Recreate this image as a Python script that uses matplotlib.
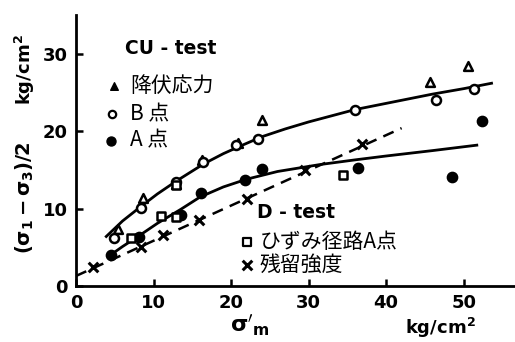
import numpy as np
import matplotlib
matplotlib.use("Agg")
import matplotlib.pyplot as plt

plt.rcParams['font.family'] = ['DejaVu Sans', 'Noto Sans CJK JP']
plt.rcParams['mathtext.fontset'] = 'dejavusans'
jp = ['Noto Sans CJK JP', 'DejaVu Sans']

# CU-test
yield_x = [5.4, 8.6, 12.9, 16.2, 20.9, 24.0, 45.7, 50.6]
yield_y = [7.4, 11.4, 13.2, 16.3, 18.5, 21.4, 26.4, 28.4]
b_x = [4.9, 8.4, 12.9, 16.4, 20.7, 23.5, 36.0, 46.4, 51.4]
b_y = [6.2, 10.1, 13.4, 16.0, 18.2, 19.0, 22.8, 24.0, 25.5]
a_x = [4.5, 8.1, 13.5, 16.1, 21.8, 24.0, 36.4, 48.5, 52.4]
a_y = [4.0, 6.3, 9.2, 12.0, 13.7, 15.1, 15.2, 14.1, 21.3]

# D-test
path_x = [7.1, 11.0, 12.9, 12.9, 34.5]
path_y = [6.2, 9.0, 8.9, 13.0, 14.3]
resid_x = [2.2, 8.4, 11.2, 15.9, 22.0, 29.5, 36.9]
resid_y = [2.5, 5.1, 6.6, 8.5, 11.3, 15.0, 18.3]

# hand-drawn trend lines
b_curve_x = [3.9, 6.0, 8.4, 10.5, 13.0, 16.5, 19.0, 21.0, 24.0, 27.0, 30.0,
             33.0, 36.0, 40.0, 43.0, 46.0, 50.0, 53.6]
b_curve_y = [6.4, 8.4, 10.3, 11.9, 13.6, 15.8, 17.1, 18.0, 19.3, 20.3, 21.2,
             22.0, 22.8, 23.6, 24.2, 24.8, 25.5, 26.2]
a_curve_x = [4.3, 6.0, 8.0, 10.5, 13.5, 16.0, 19.0, 22.0, 26.0, 31.5, 36.0,
             40.0, 46.0, 51.7]
a_curve_y = [3.9, 5.1, 6.4, 8.1, 9.9, 11.5, 12.8, 13.8, 14.8, 15.7, 16.3,
             16.8, 17.5, 18.2]
resid_line_x = [0.0, 42.0]
resid_line_y = [1.3, 20.4]

fig = plt.figure(figsize=(5.15, 3.42), dpi=100)
ax = fig.add_axes([0.1476, 0.1637, 0.852, 0.792])

ax.plot(b_curve_x, b_curve_y, color='black', lw=2)
ax.plot(a_curve_x, a_curve_y, color='black', lw=2)
ax.plot(resid_line_x, resid_line_y, color='black', lw=1.8, ls=(0, (4.5, 3)))

ax.scatter(yield_x, yield_y, marker='^', s=40, facecolor='white', edgecolor='black', lw=1.8, zorder=3)
ax.scatter(b_x, b_y, marker='o', s=42, facecolor='white', edgecolor='black', lw=1.8, zorder=3)
ax.scatter(a_x, a_y, marker='o', s=55, color='black', zorder=3)
ax.scatter(path_x, path_y, marker='s', s=36, facecolor='white', edgecolor='black', lw=1.8, zorder=3)
ax.scatter(resid_x, resid_y, marker='x', s=48, color='black', lw=2.2, zorder=3)

ax.set_xlim(0, 56.6)
ax.set_ylim(0, 35)
ax.set_xticks([0, 10, 20, 30, 40, 50])
ax.set_yticks([0, 10, 20, 30])
for s in ['top', 'right']:
    ax.spines[s].set_visible(False)
for s in ['left', 'bottom']:
    ax.spines[s].set_linewidth(2)
ax.tick_params(direction='in', length=5, width=1.8, labelsize=13, pad=6)
for lab in ax.get_xticklabels() + ax.get_yticklabels():
    lab.set_fontweight('bold')

# legend block, drawn as text and markers inside the axes
ax.text(6.3, 30.7, 'CU - test', fontsize=13.5, fontweight='bold', va='center')
ax.scatter([4.9], [25.8], marker='^', s=30, color='black')
ax.text(7.0, 25.8, '降伏応力', fontsize=15, family=jp, va='center')
ax.scatter([4.7], [22.2], marker='o', s=28, facecolor='white', edgecolor='black', lw=1.6)
ax.text(7.0, 22.2, 'B 点', fontsize=15, family=jp, va='center')
ax.scatter([4.5], [18.8], marker='o', s=42, color='black')
ax.text(7.0, 18.8, 'A 点', fontsize=15, family=jp, va='center')

ax.text(23.4, 9.5, 'D - test', fontsize=13.5, fontweight='bold', va='center')
ax.scatter([22.0], [5.7], marker='s', s=32, facecolor='white', edgecolor='black', lw=1.6)
ax.text(23.7, 5.7, 'ひずみ径路A点', fontsize=15, family=jp, va='center')
ax.scatter([22.0], [2.7], marker='x', s=48, color='black', lw=2.2)
ax.text(23.7, 2.7, '残留強度', fontsize=15, family=jp, va='center')

# axis titles
fig.text(25 / 515, 1 - 198 / 342, r'$\mathbf{(\sigma_1 - \sigma_3)/2}$', rotation=90,
         fontsize=14, ha='center', va='center')
fig.text(25 / 515, 1 - 70 / 342, r'$\mathbf{kg/cm^2}$', rotation=90,
         fontsize=13, ha='center', va='center')
fig.text(250 / 515, 1 - 325 / 342, r"$\mathbf{\sigma'_m}$", fontsize=16,
         ha='center', va='center')
fig.text(440 / 515, 1 - 328 / 342, r'$\mathbf{kg/cm^2}$', fontsize=13,
         ha='center', va='center')

fig.savefig('out.png', dpi=100)
